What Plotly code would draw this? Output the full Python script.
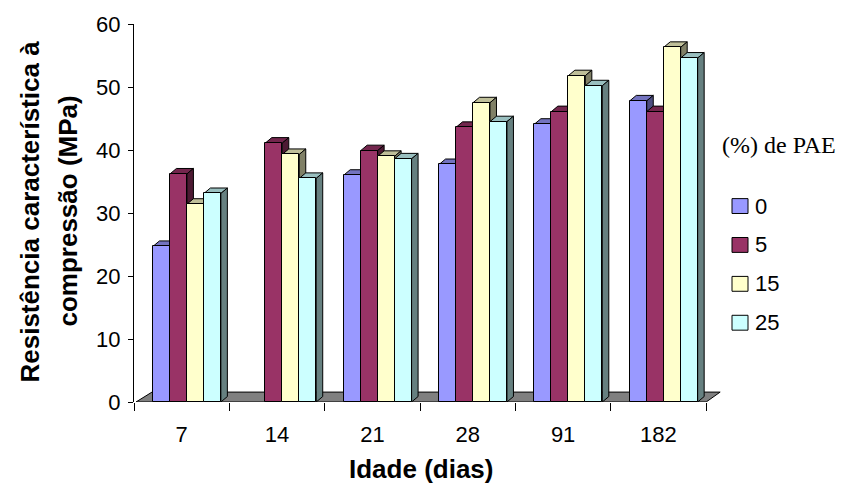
import plotly.graph_objects as go

# ---- data -------------------------------------------------------------
ages = ["7", "14", "21", "28", "91", "182"]          # Idade (dias)
pae_levels = ["0", "5", "15", "25"]                   # (%) de PAE
res_pae0 = [24.7, None, 36.0, 37.7, 44.1, 47.8]
res_pae5 = [36.2, 41.1, 39.9, 43.6, 46.1, 46.1]
res_pae15 = [31.4, 39.3, 39.0, 47.5, 51.8, 56.3]
res_pae25 = [33.1, 35.5, 38.6, 44.5, 50.2, 54.6]
y_ticks = [0, 10, 20, 30, 40, 50, 60]

# ---- page / plot geometry --------------------------------------------
W, H = 843, 485
M_L, M_R, M_T, M_B = 134, 113, 21, 83
X_RANGE = [-0.5, 5.75]
Y_RANGE = [0, 60]
PLOT_W = W - M_L - M_R
PLOT_H = H - M_T - M_B
PX_X = PLOT_W / (X_RANGE[1] - X_RANGE[0])
PX_Y = PLOT_H / (Y_RANGE[1] - Y_RANGE[0])

# oblique depth of the columns and of the floor (pixels -> data units)
DX, DY = 6.5 / PX_X, 5.5 / PX_Y
FL_DX, FL_DY = 14.0 / PX_X, 10.0 / PX_Y

BAR_W = 0.178
OFFSETS = [-0.301, -0.123, 0.055, 0.233]

FONT = "Liberation Sans, Arial, sans-serif"
SERIF = "Liberation Serif, Times New Roman, serif"

# front / top / side colours for each series
series = [
    (pae_levels[0], res_pae0, "#9999FF", "#7373BF", "#4D4D80"),
    (pae_levels[1], res_pae5, "#993366", "#73264D", "#4D1A33"),
    (pae_levels[2], res_pae15, "#FFFFCC", "#BFBF99", "#808066"),
    (pae_levels[3], res_pae25, "#CCFFFF", "#99BFBF", "#668080"),
]


def px_to_paper_x(px):
    return (px - M_L) / PLOT_W


def px_to_paper_y(py):
    return (H - M_B - py) / PLOT_H


def poly(points):
    return "M " + " L ".join(f"{x:.5f},{y:.5f}" for x, y in points) + " Z"


fig = go.Figure()
shapes = []

# floor of the 3-D plot
x_left = X_RANGE[0] + 2.0 / PX_X
x_right = len(ages) - 0.5
shapes.append(dict(
    type="path", xref="x", yref="y", layer="below",
    path=poly([(x_left, 0), (x_right, 0), (x_right + FL_DX, FL_DY),
               (x_left + FL_DX + 2.0 / PX_X, FL_DY)]),
    fillcolor="#808080", line=dict(color="#000000", width=1),
))

x_idx = list(range(len(ages)))
for k, (name, vals, c_front, c_top, c_side) in enumerate(series):
    fig.add_trace(go.Bar(
        x=x_idx, y=vals, name=name, width=BAR_W, offset=OFFSETS[k],
        marker=dict(color=c_front, line=dict(color="#000000", width=1)),
        showlegend=False, hoverinfo="y",
    ))
    # top and right faces of each column
    for i, v in enumerate(vals):
        if v is None:
            continue
        x0 = i + OFFSETS[k]
        x1 = x0 + BAR_W
        shapes.append(dict(
            type="path", xref="x", yref="y", layer="below",
            path=poly([(x0, v), (x1, v), (x1 + DX, v + DY), (x0 + DX, v + DY)]),
            fillcolor=c_top, line=dict(color="#000000", width=1),
        ))
        shapes.append(dict(
            type="path", xref="x", yref="y", layer="below",
            path=poly([(x1, 0), (x1 + DX, DY), (x1 + DX, v + DY), (x1, v)]),
            fillcolor=c_side, line=dict(color="#000000", width=1),
        ))

annotations = []

# axis titles
annotations.append(dict(
    text="<b>Idade (dias)</b>", xref="paper", yref="paper",
    x=px_to_paper_x(421), y=px_to_paper_y(470), xanchor="center", yanchor="middle",
    showarrow=False, font=dict(family=FONT, size=26, color="#000000"),
))
for text, cx in [("<b>Resistência característica à</b>", 30),
                 ("<b>compressão (MPa)</b>", 68)]:
    annotations.append(dict(
        text=text, xref="paper", yref="paper", textangle=-90,
        x=px_to_paper_x(cx), y=px_to_paper_y(210), xanchor="center", yanchor="middle",
        showarrow=False, font=dict(family=FONT, size=26, color="#000000"),
    ))

# legend
annotations.append(dict(
    text="(%) de PAE", xref="paper", yref="paper",
    x=px_to_paper_x(779), y=px_to_paper_y(143), xanchor="center", yanchor="middle",
    showarrow=False, font=dict(family=SERIF, size=24, color="#000000"),
))
for k, (name, vals, c_front, c_top, c_side) in enumerate(series):
    cy = 204.5 + k * 39.2
    shapes.append(dict(
        type="rect", xref="paper", yref="paper", layer="above",
        x0=px_to_paper_x(732), x1=px_to_paper_x(748),
        y0=px_to_paper_y(cy - 7.5), y1=px_to_paper_y(cy + 7.5),
        fillcolor=c_front, line=dict(color="#000000", width=1),
    ))
    annotations.append(dict(
        text=name, xref="paper", yref="paper",
        x=px_to_paper_x(753), y=px_to_paper_y(cy), xanchor="left", yanchor="middle",
        showarrow=False, font=dict(family=FONT, size=22, color="#000000"),
    ))

fig.update_layout(
    width=W, height=H,
    margin=dict(l=M_L, r=M_R, t=M_T, b=M_B, pad=0),
    paper_bgcolor="#FFFFFF", plot_bgcolor="rgba(0,0,0,0)",
    barmode="overlay", bargap=0,
    shapes=shapes, annotations=annotations,
    showlegend=False,
    xaxis=dict(
        range=X_RANGE, tickmode="array", tickvals=x_idx, ticktext=ages,
        ticks="outside", ticklen=8, tickcolor="rgba(0,0,0,0)",
        showline=False, showgrid=False, zeroline=False,
        tickfont=dict(family=FONT, size=22, color="#000000"),
        ticklabelstandoff=5,
        minor=dict(tickmode="array", tickvals=[i - 0.5 for i in range(len(ages) + 1)],
                   ticks="outside", ticklen=8, tickcolor="#000000", tickwidth=1,
                   showgrid=False),
        fixedrange=True,
    ),
    yaxis=dict(
        range=Y_RANGE, tickmode="array", tickvals=y_ticks,
        ticks="outside", ticklen=5, tickcolor="#000000", tickwidth=1,
        showline=True, linecolor="#000000", linewidth=1,
        showgrid=False, zeroline=False,
        tickfont=dict(family=FONT, size=22, color="#000000"),
        ticklabelstandoff=3,
        fixedrange=True,
    ),
)

fig.write_html("out.html")
